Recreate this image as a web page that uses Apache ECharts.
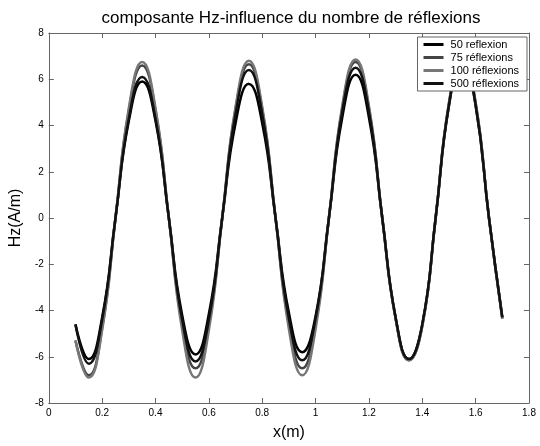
<!DOCTYPE html>
<html>
<head>
<meta charset="utf-8">
<script src="https://cdn.jsdelivr.net/npm/echarts@6/dist/echarts.min.js"></script>
<style>
  html, body { margin: 0; padding: 0; background: #fff; }
  #chart_hz { width: 540px; height: 446px; }
</style>
</head>
<body>
<div id="chart_hz"></div>
<script>
// positions along x (m)
var x_pos = [0.10, 0.15, 0.20, 0.25, 0.30, 0.35, 0.40, 0.45, 0.50, 0.55, 0.60,
             0.65, 0.70, 0.75, 0.80, 0.85, 0.90, 0.95, 1.00, 1.05, 1.10, 1.15,
             1.20, 1.25, 1.30, 1.35, 1.40, 1.45, 1.50, 1.55, 1.60, 1.65, 1.70];

// Hz (A/m)
var hz_50 = [-4.6, -6.1, -4.3, 0, 4.2, 5.9, 4.2, 0, -4.2, -5.9, -4.15,
             0, 4.1, 5.8, 4.1, 0, -4.1, -5.8, -4.25, 0, 4.35, 6.2,
             4.35, 0, -4.3, -6.1, -4.6, 0, 4.85, 6.9, 4.85, 0, -4.3];
var hz_75 = [-5.3, -6.8, -4.75, 0, 4.65, 6.6, 4.65, 0, -4.6, -6.5, -4.6,
             0, 4.7, 6.65, 4.7, 0, -4.6, -6.5, -4.6, 0, 4.75, 6.75,
             4.75, 0, -4.35, -6.15, -4.65, 0, 4.95, 7.0, 4.95, 0, -4.35];
var hz_100 = [-5.3, -6.9, -4.85, 0, 4.75, 6.75, 4.75, 0, -4.85, -6.9, -4.85,
              0, 4.8, 6.8, 4.8, 0, -4.8, -6.8, -4.8, 0, 4.85, 6.85,
              4.85, 0, -4.35, -6.15, -4.7, 0, 5.0, 7.05, 5.0, 0, -4.35];
var hz_500 = [-4.6, -6.3, -4.4, 0, 4.3, 6.1, 4.3, 0, -4.4, -6.2, -4.4,
              0, 4.5, 6.4, 4.5, 0, -4.35, -6.15, -4.35, 0, 4.6, 6.5,
              4.6, 0, -4.3, -6.1, -4.6, 0, 4.9, 6.95, 4.9, 0, -4.3];

var names = ['50 reflexion', '75 réflexions', '100 réflexions', '500 réflexions'];
var colors = ['#000000', '#444444', '#777777', '#111111'];
var x_ticks = ['0', '0.2', '0.4', '0.6', '0.8', '1', '1.2', '1.4', '1.6', '1.8'];

function make_pairs(ys) {
    var out = [];
    for (var i = 0; i < x_pos.length; i++) out.push([x_pos[i], ys[i]]);
    return out;
}

var font = 'Liberation Sans, Arial, Helvetica, sans-serif';
var frame = '#666666';

function make_series(i, ys) {
    return {
        name: names[i],
        type: 'line',
        xAxisIndex: 0,
        yAxisIndex: 0,
        smooth: 0.5,
        symbol: 'none',
        data: make_pairs(ys),
        lineStyle: { color: colors[i], width: 2.5 },
        itemStyle: { color: colors[i] }
    };
}

var chart_hz = echarts.init(document.getElementById('chart_hz'));

var option_hz = {
    animation: false,
    backgroundColor: '#ffffff',
    title: {
        text: 'composante Hz-influence du nombre de réflexions',
        left: 286,
        textAlign: 'center',
        top: 5,
        textStyle: { fontFamily: font, fontSize: 17, fontWeight: 'normal', color: '#000' }
    },
    grid: { left: 47, right: 11, top: 33, bottom: 34, containLabel: false },
    legend: {
        orient: 'vertical',
        right: 13,
        top: 37,
        data: names,
        icon: 'rect',
        itemWidth: 20,
        itemHeight: 3,
        itemGap: 2,
        padding: [2, 8, 2, 6],
        backgroundColor: '#ffffff',
        borderColor: frame,
        borderWidth: 1,
        borderRadius: 0,
        textStyle: { fontFamily: font, fontSize: 11, color: '#000', padding: [0, 0, 0, 2] }
    },
    xAxis: [
        {
            type: 'value', min: 0, max: 1.8, interval: 0.2, position: 'bottom',
            name: 'x(m)', nameLocation: 'middle', nameGap: 22,
            nameTextStyle: { fontFamily: font, fontSize: 16, color: '#000' },
            axisLine: { show: true, onZero: false, lineStyle: { color: frame } },
            axisTick: { show: true, inside: true, length: 5, lineStyle: { color: frame } },
            axisLabel: {
                fontFamily: font, fontSize: 10, color: '#000', margin: 5,
                formatter: function (v) { return x_ticks[Math.round(v / 0.2)]; }
            },
            splitLine: { show: false }
        },
        {
            type: 'value', min: 0, max: 1.8, interval: 0.2, position: 'top',
            axisLine: { show: true, onZero: false, lineStyle: { color: frame } },
            axisTick: { show: true, inside: true, length: 5, lineStyle: { color: frame } },
            axisLabel: { show: false },
            splitLine: { show: false }
        }
    ],
    yAxis: [
        {
            type: 'value', min: -8, max: 8, interval: 2, position: 'left',
            name: 'Hz(A/m)', nameLocation: 'middle', nameGap: 16, nameRotate: 90,
            nameTextStyle: { fontFamily: font, fontSize: 16, color: '#000' },
            axisLine: { show: true, onZero: false, lineStyle: { color: frame } },
            axisTick: { show: true, inside: true, length: 5, lineStyle: { color: frame } },
            axisLabel: { fontFamily: font, fontSize: 10, color: '#000', margin: 5 },
            splitLine: { show: false }
        },
        {
            type: 'value', min: -8, max: 8, interval: 2, position: 'right',
            axisLine: { show: true, onZero: false, lineStyle: { color: frame } },
            axisTick: { show: true, inside: true, length: 5, lineStyle: { color: frame } },
            axisLabel: { show: false },
            splitLine: { show: false }
        }
    ],
    series: [
        make_series(0, hz_50),
        make_series(1, hz_75),
        make_series(2, hz_100),
        make_series(3, hz_500)
    ]
};

chart_hz.setOption(option_hz);
</script>
</body>
</html>
